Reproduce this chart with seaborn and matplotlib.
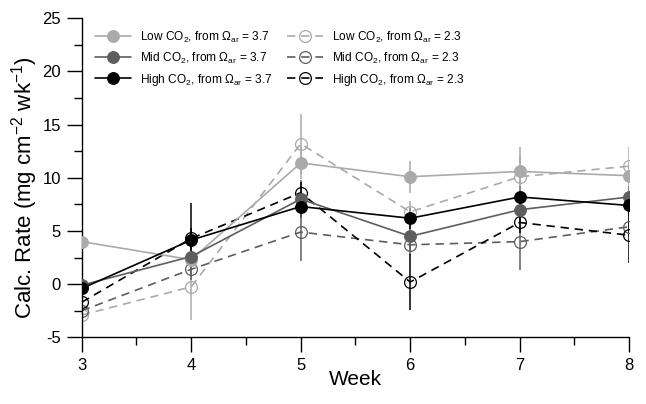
import numpy as np
import seaborn as sns
import matplotlib.pyplot as plt
from matplotlib.ticker import MultipleLocator

weeks = [3, 4, 5, 6, 7, 8]

low_37 = [4.0, 2.3, 11.4, 10.1, 10.6, 10.2]
low_37_err = [1.2, 1.0, 1.5, 1.5, 2.3, 1.0]
mid_37 = [-0.1, 2.6, 8.0, 4.5, 7.0, 8.2]
mid_37_err = [1.7, 1.0, 1.8, 1.5, 1.0, 1.0]
high_37 = [-0.4, 4.15, 7.3, 6.2, 8.2, 7.4]
high_37_err = [1.0, 3.45, 1.0, 1.0, 1.0, 1.0]

low_23 = [-2.9, -0.25, 13.2, 6.8, 10.1, 11.1]
low_23_err = [2.4, 3.1, 2.8, 1.0, 2.0, 1.8]
mid_23 = [-2.5, 1.4, 4.9, 3.7, 4.0, 5.4]
mid_23_err = [1.0, 1.0, 2.7, 1.0, 2.7, 1.0]
high_23 = [-1.7, 4.3, 8.6, 0.2, 5.8, 4.6]
high_23_err = [1.0, 1.0, 1.0, 2.6, 1.0, 2.6]

labels_37 = ["Low CO$_2$, from Ω$_{\\mathrm{ar}}$ = 3.7",
             "Mid CO$_2$, from Ω$_{\\mathrm{ar}}$ = 3.7",
             "High CO$_2$, from Ω$_{\\mathrm{ar}}$ = 3.7"]
labels_23 = ["Low CO$_2$, from Ω$_{\\mathrm{ar}}$ = 2.3",
             "Mid CO$_2$, from Ω$_{\\mathrm{ar}}$ = 2.3",
             "High CO$_2$, from Ω$_{\\mathrm{ar}}$ = 2.3"]

sns.set_style("ticks")
plt.rcParams['font.family'] = ['Liberation Sans', 'DejaVu Sans']
plt.rcParams['mathtext.fontset'] = 'custom'
plt.rcParams['mathtext.rm'] = 'Liberation Sans'
plt.rcParams['mathtext.it'] = 'Liberation Sans:italic'
plt.rcParams['axes.unicode_minus'] = False
plt.rcParams['text.color'] = 'black'
plt.rcParams['axes.labelcolor'] = 'black'
plt.rcParams['xtick.color'] = 'black'
plt.rcParams['ytick.color'] = 'black'

fig = plt.figure(figsize=(6.46, 4.04), dpi=100)
ax = fig.add_axes([0.1265, 0.165, 0.8475, 0.7897])

colors = ['#aaaaaa', '#5e5e5e', '#000000']

solid = [(low_37, low_37_err), (mid_37, mid_37_err), (high_37, high_37_err)]
dashed = [(low_23, low_23_err), (mid_23, mid_23_err), (high_23, high_23_err)]

# error bars first, underneath everything
for (vals, err), c in zip(solid + dashed, colors + colors):
    ax.errorbar(weeks, vals, yerr=err, fmt='none', ecolor=c, elinewidth=1.1,
                capsize=0, zorder=1)

for (vals, err), c, lab in zip(solid, colors, labels_37):
    sns.lineplot(x=weeks, y=vals, ax=ax, color=c, marker='o', markersize=8.5,
                 markerfacecolor=c, markeredgecolor=c, linewidth=1.2,
                 label=lab, zorder=3)
for (vals, err), c, lab in zip(dashed, colors, labels_23):
    sns.lineplot(x=weeks, y=vals, ax=ax, color=c, marker='o', markersize=8.5,
                 markerfacecolor='none', markeredgecolor=c, markeredgewidth=0.9,
                 linestyle=(0, (5, 3.5)), linewidth=1.2, label=lab, zorder=2)

h, l = ax.get_legend_handles_labels()
ax.legend(h, l, ncol=2, loc='upper left', bbox_to_anchor=(0.024, 0.965),
          frameon=False, fontsize=8.6, handlelength=3.0, handletextpad=0.8,
          columnspacing=1.2, labelspacing=0.5, borderaxespad=0, borderpad=0)

ax.set_xlim(3, 8)
ax.set_ylim(-5, 25)
ax.xaxis.set_major_locator(MultipleLocator(1))
ax.xaxis.set_minor_locator(MultipleLocator(0.5))
ax.yaxis.set_major_locator(MultipleLocator(5))
ax.yaxis.set_minor_locator(MultipleLocator(2.5))
ax.tick_params(which='major', direction='out', length=11, width=1.0,
               labelsize=12, pad=4)
ax.tick_params(which='minor', direction='out', length=6, width=1.0)
for s in ['left', 'bottom']:
    ax.spines[s].set_linewidth(1.0)
    ax.spines[s].set_color('black')
sns.despine(ax=ax)

ax.set_xlabel('Week', fontsize=15, labelpad=-2)
ax.set_ylabel('Calc. Rate (mg cm$^{-2}$ wk$^{-1}$)', fontsize=16)
ax.yaxis.set_label_coords(-0.076, 0.47)

fig.savefig('out.png', dpi=100)
plt.close(fig)
